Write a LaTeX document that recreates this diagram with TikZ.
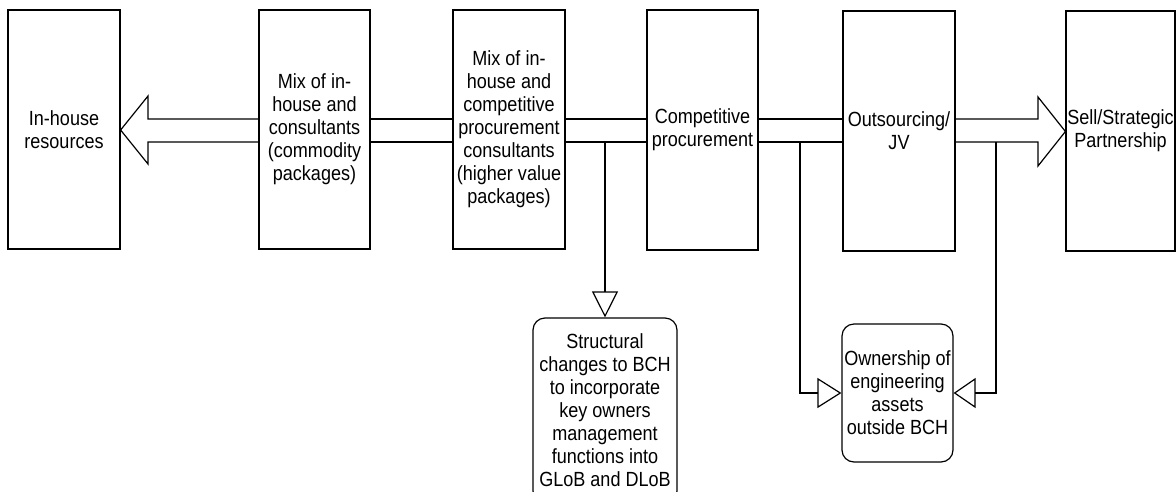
\documentclass[tikz,border=0pt]{standalone}
\usepackage{fontspec}
\setmainfont{Liberation Sans}[FakeStretch=0.88]
\usetikzlibrary{arrows.meta}
\begin{document}
\begin{tikzpicture}[x=1pt,y=-1pt,line width=1.2pt,
  box/.style={draw, inner sep=0pt, align=center, font=\fontsize{20.5}{23}\selectfont},
  rbox/.style={box, rounded corners=12pt},
  opentip/.style={-{Triangle[open,length=#1,width=30]}},
  conn/.style={line join=miter}]
\useasboundingbox (0,0) rectangle (1176,491);
\clip (0,0) rectangle (1176,491);
\def\yt{119}
\def\yb{142}
% main boxes
\node[box, minimum width=112, minimum height=239] (b1) at (64,129.5) {In-house\\resources};
\node[box, minimum width=111, minimum height=239] (b2) at (314.5,129.5) {Mix of in-\\house and\\consultants\\(commodity\\packages)};
\node[box, minimum width=112, minimum height=239] (b3) at (509,129.5) {Mix of in-\\house and\\competitive\\procurement\\consultants\\(higher value\\packages)};
\node[box, minimum width=111, minimum height=240] (b4) at (702.5,130) {Competitive\\procurement};
\node[box, minimum width=112, minimum height=240] (b5) at (899,131) {Outsourcing/\\JV};
\node[box, minimum width=109, minimum height=240] (b6) at (1120.5,131) {Sell/Strategic\\Partnership};
% lower boxes
\node[rbox, minimum width=144, minimum height=185] (s) at (605,410.5) {Structural\\changes to BCH\\to incorporate\\key owners\\management\\functions into\\GLoB and DLoB};
\node[rbox, minimum width=111, minimum height=138] (o) at (897.5,393) {Ownership of\\engineering\\assets\\outside BCH};
% block arrow to the left
\draw[conn] (b2.west |- 0,\yt) -- (148,\yt) -- (148,96) -- (b1.east |- 0,130)
  -- (148,164) -- (148,\yb) -- (b2.west |- 0,\yb);
% block arrow to the right
\draw[conn] (b5.east |- 0,\yt) -- (1038,\yt) -- (1038,97) -- (b6.west |- 0,131.5)
  -- (1038,166) -- (1038,\yb) -- (b5.east |- 0,\yb);
% shaft between boxes
\draw (b2.east |- 0,\yt) -- (b3.west |- 0,\yt);
\draw (b2.east |- 0,\yb) -- (b3.west |- 0,\yb);
\draw (b3.east |- 0,\yt) -- (b4.west |- 0,\yt);
\draw (b3.east |- 0,\yb) -- (b4.west |- 0,\yb);
\draw (b4.east |- 0,\yt) -- (b5.west |- 0,\yt);
\draw (b4.east |- 0,\yb) -- (b5.west |- 0,\yb);
% vertical connectors
\draw[-{Triangle[open,length=26,width=26]}] (s.north |- 0,\yb) -- (s.north);
\coordinate (c2) at (800,\yb);
\coordinate (c3) at (996,\yb);
\draw[conn, opentip=24] (c2) -- (c2 |- o.west) -- (o.west);
\draw[conn, opentip=22] (c3) -- (c3 |- o.east) -- (o.east);
\end{tikzpicture}
\end{document}
